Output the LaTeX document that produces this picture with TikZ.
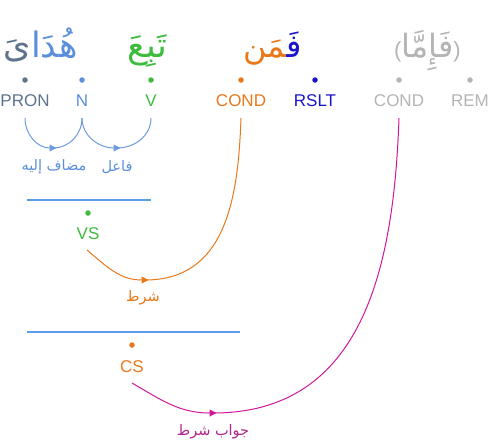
\documentclass[tikz,border=0pt]{standalone}
\usepackage{fontspec}
\setmainfont{Liberation Sans}
\newfontfamily\arabicfont[Script=Arabic]{DejaVu Sans}
\TeXXeTstate=1
\usetikzlibrary{arrows.meta}
\definecolor{pron}{HTML}{5E738C}
\definecolor{nblue}{HTML}{5B8FDB}
\definecolor{arcblue}{HTML}{6C9BE0}
\definecolor{vgreen}{HTML}{3DBB3D}
\definecolor{cond}{HTML}{E8781A}
\definecolor{rslt}{HTML}{1C14C8}
\definecolor{grayc}{HTML}{B4B4B4}
\definecolor{mag}{HTML}{D0179B}
\definecolor{magtxt}{HTML}{B0268E}
\definecolor{lineblue}{HTML}{5B9BE8}
\begin{document}
\begin{tikzpicture}[x=1pt,y=-1pt,
  word/.style={inner sep=0pt,anchor=base east,font=\arabicfont\fontsize{35}{40}\selectfont},
  dot/.style={circle,inner sep=0pt,minimum size=5.5pt},
  tag/.style={inner sep=0pt,font=\fontsize{17}{20}\selectfont},
  arlbl/.style={inner sep=0pt,font=\arabicfont\fontsize{14.5}{17}\selectfont},
  arcline/.style={line width=1pt},
  midtip/.style={-{Triangle[length=7pt,width=7pt]},shorten >=-3.5pt},
  sepline/.style={draw=lineblue,line width=1.2pt}
]
\useasboundingbox (0,0) rectangle (489,442);
\clip (0,0) rectangle (489,442);
% words
\node[word,text=nblue] (w1a) at (78,57) {هُدَا};
\node[word,text=pron] (w1b) at (w1a.base west) {ىَ};
\node[word,text=vgreen] (w2) at (167,57) {تَبِعَ};
\node[word,text=rslt,font=\arabicfont\fontsize{32}{38}\selectfont] (w3a) at (302,57) {فَ^^^^200d};
\node[word,text=cond,font=\arabicfont\fontsize{32}{38}\selectfont] (w3b) at (w3a.base west) {^^^^200dمَن};
\node[word,text=grayc,font=\arabicfont\fontsize{32}{38}\selectfont] (w4) at (461,57) {{\normalfont\fontsize{22}{26}\selectfont(}فَإِمَّا{\normalfont\fontsize{22}{26}\selectfont)}};
% dots
\node[dot,fill=pron] (d1) at (25,80) {};
\node[dot,fill=nblue] (d2) at (82,80) {};
\node[dot,fill=vgreen] (d3) at (151,80) {};
\node[dot,fill=cond] (d4) at (241,80) {};
\node[dot,fill=rslt] (d5) at (315,80) {};
\node[dot,fill=grayc] (d6) at (399,80) {};
\node[dot,fill=grayc] (d7) at (470,80) {};
% tags
\node[tag,text=pron] (t1) at (25,101) {PRON};
\node[tag,text=nblue] (t2) at (82,101) {N};
\node[tag,text=vgreen] (t3) at (151,101) {V};
\node[tag,text=cond] (t4) at (241,101) {COND};
\node[tag,text=rslt] (t5) at (315,101) {RSLT};
\node[tag,text=grayc] (t6) at (399,101) {COND};
\node[tag,text=grayc] (t7) at (470,101) {REM};
% connector end points
\coordinate (s1) at (25,118);
\coordinate (s2) at (82,118);
\coordinate (s3) at (151,118);
\coordinate (s4) at (241,118);
\coordinate (s6) at (399,118);
\coordinate (b1) at (53,148);
\coordinate (b2) at (117,148);
% blue arcs
\draw[arcline,draw=arcblue,midtip] (s1) to[out=-90,in=180] (b1);
\draw[arcline,draw=arcblue] (b1) to[out=0,in=-90] (s2);
\draw[arcline,draw=arcblue,midtip] (s2) to[out=-90,in=180] (b2);
\draw[arcline,draw=arcblue] (b2) to[out=0,in=-90] (s3);
\node[arlbl,text=nblue] (a1) at (54,167) {\beginR مضاف إليه\endR};
\node[arlbl,text=nblue] (a2) at (117,167) {\beginR فاعل\endR};
% VS
\draw[sepline] (27,200) -- (151,200);
\node[dot,fill=vgreen] (vsd) at (88,213) {};
\node[tag,text=vgreen] (vs) at (88,234) {VS};
\coordinate (vss) at (87,250);
\coordinate (ob) at (145,280);
\draw[arcline,draw=cond,midtip] (vss) to[out=-40,in=180] (ob);
\draw[arcline,draw=cond] (ob) to[out=0,in=-92,looseness=1.1] (s4);
\node[arlbl,text=cond] (a3) at (143,298) {\beginR شرط\endR};
% CS
\draw[sepline] (27,332) -- (240,332);
\node[dot,fill=cond] (csd) at (132,345) {};
\node[tag,text=cond] (cs) at (132,367) {CS};
\coordinate (css) at (132,383);
\coordinate (mb) at (213,413);
\draw[arcline,draw=mag,midtip] (css) to[out=-30,in=180] (mb);
\draw[arcline,draw=mag] (mb) to[out=0,in=-92,looseness=1.1] (s6);
\node[arlbl,text=magtxt] (a4) at (213,432) {\beginR جواب شرط\endR};
\end{tikzpicture}
\end{document}
